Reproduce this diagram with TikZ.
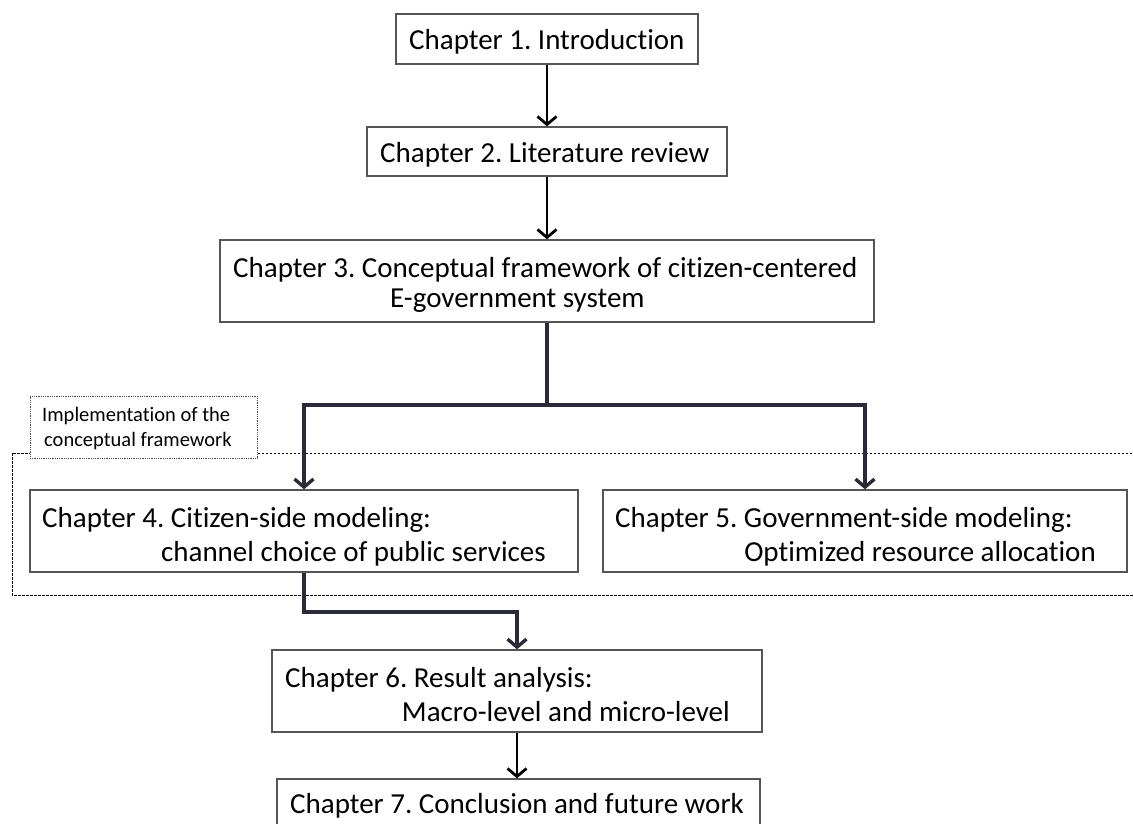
\documentclass[tikz,border=0pt]{standalone}
\usepackage{fontspec}
\setmainfont{Carlito}[Ligatures=NoCommon]
\frenchspacing
\usetikzlibrary{arrows.meta}
\definecolor{boxline}{HTML}{555555}
\definecolor{flow}{HTML}{2A2A38}
\begin{document}
\begin{tikzpicture}[x=1pt,y=-1pt,
  chbox/.style={draw=boxline, line width=1.4pt, inner sep=0pt, fill=white},
  chtext/.style={inner sep=0pt, font=\fontsize{29}{33}\selectfont},
  smalltext/.style={inner sep=0pt, font=\fontsize{20.5}{24}\selectfont},
  straightarr/.style={line width=2.8pt, black, -{Straight Barb[length=8pt,width=19pt]}},
  brancharr/.style={line width=3.4pt, flow, line join=miter, -{Straight Barb[length=8pt,width=19pt]}},
  branchline/.style={line width=3.4pt, flow}]
\useasboundingbox (0,0) rectangle (1133,823);
\fill[white] (0,0) rectangle (1133,823);

% implementation region and its caption
\draw[black, line width=0.8pt, dash pattern=on 2.5pt off 1.5pt] (12,453) rectangle (1160,595);
\node[draw=black!70, densely dotted, line width=0.8pt, minimum width=227pt, minimum height=62pt, inner sep=0pt, fill=white] (impl) at (143.5,427) {};
\node[smalltext, anchor=base west] (impl1) at (42,421) {Implementation of the};
\node[smalltext, anchor=base west] (impl2) at (44,446) {conceptual framework};

% chapter boxes
\node[chbox, minimum width=302pt, minimum height=50pt] (b1) at (547,39) {};
\node[chbox, minimum width=360pt, minimum height=49pt] (b2) at (547,151.5) {};
\node[chbox, minimum width=654pt, minimum height=82pt] (b3) at (547,281) {};
\node[chbox, minimum width=548pt, minimum height=82pt] (b4) at (304,531) {};
\node[chbox, minimum width=524pt, minimum height=82pt] (b5) at (865,531) {};
\node[chbox, minimum width=490pt, minimum height=82pt] (b6) at (517,691) {};
\node[chbox, minimum width=483pt, minimum height=60pt] (b7) at (518.5,809) {};

% chapter titles
\node[chtext, anchor=base west] (t1) at (409,49) {Chapter 1. Introduction};
\node[chtext, anchor=base west] (t2) at (380,162) {Chapter 2. Literature review};
\node[chtext, anchor=base west] (t3a) at (233,277) {Chapter 3. Conceptual framework of citizen-centered};
\node[chtext, anchor=base west] (t3b) at (390,307) {E-government system};
\node[chtext, anchor=base west] (t4a) at (42,527) {Chapter 4. Citizen-side modeling:};
\node[chtext, anchor=base east] (t4b) at (546,561) {channel choice of public services};
\node[chtext, anchor=base west] (t5a) at (615,527) {Chapter 5. Government-side modeling:};
\node[chtext, anchor=base east] (t5b) at (1096,561) {Optimized resource allocation};
\node[chtext, anchor=base west] (t6a) at (285,687) {Chapter 6. Result analysis:};
\node[chtext, anchor=base east] (t6b) at (730,721) {Macro-level and micro-level};
\node[chtext, anchor=base west] (t7) at (290,813) {Chapter 7. Conclusion and future work};

% branch and merge points
\coordinate (split) at (b3.south |- 0,405);
\coordinate (merge) at (b6.north |- 0,612);

% connectors
\draw[straightarr] (b1.south) -- (b2.north);
\draw[straightarr] (b2.south) -- (b3.north);
\draw[branchline] (b3.south) -- (split);
\draw[brancharr] (split) -| (b4.north);
\draw[brancharr] (split) -| (b5.north);
\draw[brancharr] (b4.south) |- (merge) -- (b6.north);
\draw[straightarr] (b6.south) -- (b7.north -| b6.south);
\end{tikzpicture}
\end{document}
